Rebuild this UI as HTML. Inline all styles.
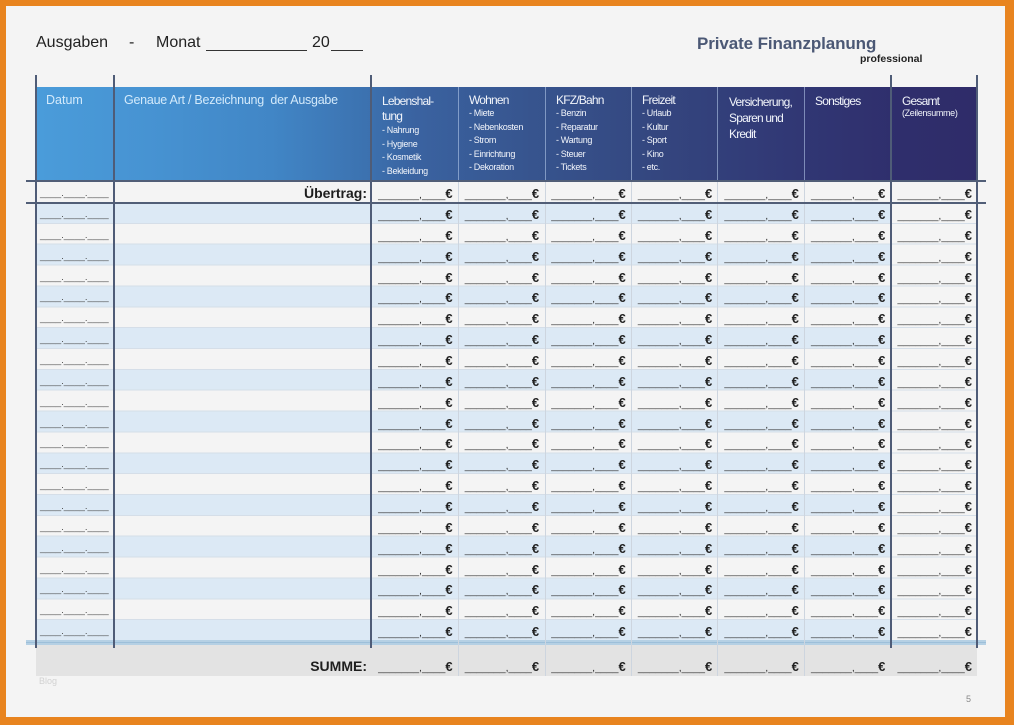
<!DOCTYPE html>
<html><head><meta charset="utf-8">
<style>
*{margin:0;padding:0}
body{width:1014px;height:725px;overflow:hidden;background:#e8841f;position:relative;font-family:"Liberation Sans",sans-serif}
.a{position:absolute}
#pg{left:6px;top:6px;width:999px;height:711px;background:#f4f4f4}
.vl{position:absolute;top:75px;height:573px;width:2px;background:#4f5c77}
.hl{position:absolute;left:26px;width:960px;height:2px;background:#515e77}
.ls{position:absolute;top:181px;height:495px;width:1px;background:#cdd5df}
.hs{position:absolute;top:87px;height:93px;width:1px;background:rgba(190,210,240,0.55)}
.r{position:absolute;left:36px;width:941px;height:21px;display:flex;line-height:23px}
.r s{text-decoration:none;width:78px;padding-left:4px;box-sizing:border-box;font-size:9.5px;color:#4a4a4a;white-space:nowrap;overflow:hidden}
.r em{width:257px;flex:none;font-style:normal;text-align:right;padding-right:4px;box-sizing:border-box;font-weight:bold;font-size:14px;color:#1e1e1e}
.r i{font-style:normal;width:86.57px;flex:none;text-align:right;padding-right:5px;box-sizing:border-box;font-size:10.5px;color:#333;white-space:nowrap}
.r i b{font-size:13px;color:#222}
.ht{position:absolute;top:94px;color:#f2f5fb;font-size:12px;letter-spacing:-0.8px;line-height:15px}
.ht small{display:block;font-size:9px;letter-spacing:-0.35px;line-height:13.5px}
</style></head><body>
<div id="pg" class="a"></div>

<!-- title -->
<div class="a" style="left:36px;top:35px;font-size:16px;line-height:16px;color:#222">Ausgaben</div>
<div class="a" style="left:129px;top:35px;font-size:16px;line-height:16px;color:#222">-</div>
<div class="a" style="left:156px;top:35px;font-size:16px;line-height:16px;color:#222">Monat</div>
<div class="a" style="left:206px;top:50px;width:101px;height:1px;background:#333"></div>
<div class="a" style="left:312px;top:35px;font-size:16px;line-height:16px;color:#222">20</div>
<div class="a" style="left:331px;top:50px;width:32px;height:1px;background:#333"></div>
<div class="a" style="left:697px;top:35px;font-size:17px;line-height:17px;font-weight:bold;color:#4b5875;letter-spacing:-0.1px">Private Finanzplanung</div>
<div class="a" style="left:860px;top:54px;font-size:10.5px;line-height:11px;font-weight:bold;color:#222">professional</div>

<!-- stripes and row lines -->
<div class="a" style="left:36px;top:203px;width:855px;height:438px;background:repeating-linear-gradient(to bottom,#dce9f5 0,#dce9f5 20.857px,transparent 20.857px,transparent 41.714px)"></div>
<div class="a" style="left:36px;top:203px;width:941px;height:438px;background:repeating-linear-gradient(to bottom,transparent 0,transparent 19.857px,#d5dee8 19.857px,#d5dee8 20.857px)"></div>

<!-- summe band -->
<div class="a" style="left:36px;top:645px;width:941px;height:31px;background:#e3e3e3"></div>
<div class="a" style="left:26px;top:640px;width:960px;height:5px;background:#b5d0e4"></div>
<div class="a" style="left:26px;top:642px;width:960px;height:1px;background:#9dbfd9"></div>

<!-- header -->
<div class="a" style="left:36px;top:87px;width:941px;height:93px;background:linear-gradient(90deg,#4a9cda 0%,#4793d2 12%,#4186c6 25%,#3c72b0 35%,#3a63a1 40%,#37558f 52%,#34467f 66%,#313875 80%,#2f2e6c 92%,#2f2c69 100%)"></div>
<div class="hs" style="left:458px"></div>
<div class="hs" style="left:545px"></div>
<div class="hs" style="left:631px"></div>
<div class="hs" style="left:717px"></div>
<div class="hs" style="left:804px"></div>

<div class="a" style="left:46px;top:93px;font-size:12.5px;line-height:15px;color:#d3eafb">Datum</div>
<div class="a" style="left:124px;top:93px;font-size:12.5px;line-height:15px;color:#d3eafb;letter-spacing:-0.25px">Genaue Art / Bezeichnung&nbsp; der Ausgabe</div>
<div class="ht" style="left:382px">Lebenshal-<br>tung<small>- Nahrung<br>- Hygiene<br>- Kosmetik<br>- Bekleidung</small></div>
<div class="ht" style="left:469px;line-height:13px">Wohnen<small>- Miete<br>- Nebenkosten<br>- Strom<br>- Einrichtung<br>- Dekoration</small></div>
<div class="ht" style="left:556px;line-height:13px">KFZ/Bahn<small>- Benzin<br>- Reparatur<br>- Wartung<br>- Steuer<br>- Tickets</small></div>
<div class="ht" style="left:642px;line-height:13px">Freizeit<small>- Urlaub<br>- Kultur<br>- Sport<br>- Kino<br>- etc.</small></div>
<div class="ht" style="left:729px;line-height:16px">Versicherung,<br>Sparen und<br>Kredit</div>
<div class="ht" style="left:815px">Sonstiges</div>
<div class="ht" style="left:902px;line-height:14px">Gesamt<small style="line-height:11px">(Zeilensumme)</small></div>

<!-- body separators -->
<div class="ls" style="left:458px"></div>
<div class="ls" style="left:545px"></div>
<div class="ls" style="left:631px"></div>
<div class="ls" style="left:717px"></div>
<div class="ls" style="left:804px"></div>

<!-- dark lines -->
<div class="vl" style="left:35px"></div>
<div class="vl" style="left:113px"></div>
<div class="vl" style="left:370px"></div>
<div class="vl" style="left:890px"></div>
<div class="vl" style="left:976px"></div>
<div class="hl" style="top:180px"></div>
<div class="hl" style="top:202px"></div>

<!-- rows -->
<div class="r" style="top:182px"><s>____.____.____</s><em>Übertrag:</em><i>_______,____<b>€</b></i><i>_______,____<b>€</b></i><i>_______,____<b>€</b></i><i>_______,____<b>€</b></i><i>_______,____<b>€</b></i><i>_______,____<b>€</b></i><i>_______,____<b>€</b></i></div>
<div class="r" style="top:203px"><s>____.____.____</s><em></em><i>_______,____<b>€</b></i><i>_______,____<b>€</b></i><i>_______,____<b>€</b></i><i>_______,____<b>€</b></i><i>_______,____<b>€</b></i><i>_______,____<b>€</b></i><i>_______,____<b>€</b></i></div>
<div class="r" style="top:223.86px"><s>____.____.____</s><em></em><i>_______,____<b>€</b></i><i>_______,____<b>€</b></i><i>_______,____<b>€</b></i><i>_______,____<b>€</b></i><i>_______,____<b>€</b></i><i>_______,____<b>€</b></i><i>_______,____<b>€</b></i></div>
<div class="r" style="top:244.71px"><s>____.____.____</s><em></em><i>_______,____<b>€</b></i><i>_______,____<b>€</b></i><i>_______,____<b>€</b></i><i>_______,____<b>€</b></i><i>_______,____<b>€</b></i><i>_______,____<b>€</b></i><i>_______,____<b>€</b></i></div>
<div class="r" style="top:265.57px"><s>____.____.____</s><em></em><i>_______,____<b>€</b></i><i>_______,____<b>€</b></i><i>_______,____<b>€</b></i><i>_______,____<b>€</b></i><i>_______,____<b>€</b></i><i>_______,____<b>€</b></i><i>_______,____<b>€</b></i></div>
<div class="r" style="top:286.43px"><s>____.____.____</s><em></em><i>_______,____<b>€</b></i><i>_______,____<b>€</b></i><i>_______,____<b>€</b></i><i>_______,____<b>€</b></i><i>_______,____<b>€</b></i><i>_______,____<b>€</b></i><i>_______,____<b>€</b></i></div>
<div class="r" style="top:307.29px"><s>____.____.____</s><em></em><i>_______,____<b>€</b></i><i>_______,____<b>€</b></i><i>_______,____<b>€</b></i><i>_______,____<b>€</b></i><i>_______,____<b>€</b></i><i>_______,____<b>€</b></i><i>_______,____<b>€</b></i></div>
<div class="r" style="top:328.14px"><s>____.____.____</s><em></em><i>_______,____<b>€</b></i><i>_______,____<b>€</b></i><i>_______,____<b>€</b></i><i>_______,____<b>€</b></i><i>_______,____<b>€</b></i><i>_______,____<b>€</b></i><i>_______,____<b>€</b></i></div>
<div class="r" style="top:349px"><s>____.____.____</s><em></em><i>_______,____<b>€</b></i><i>_______,____<b>€</b></i><i>_______,____<b>€</b></i><i>_______,____<b>€</b></i><i>_______,____<b>€</b></i><i>_______,____<b>€</b></i><i>_______,____<b>€</b></i></div>
<div class="r" style="top:369.86px"><s>____.____.____</s><em></em><i>_______,____<b>€</b></i><i>_______,____<b>€</b></i><i>_______,____<b>€</b></i><i>_______,____<b>€</b></i><i>_______,____<b>€</b></i><i>_______,____<b>€</b></i><i>_______,____<b>€</b></i></div>
<div class="r" style="top:390.71px"><s>____.____.____</s><em></em><i>_______,____<b>€</b></i><i>_______,____<b>€</b></i><i>_______,____<b>€</b></i><i>_______,____<b>€</b></i><i>_______,____<b>€</b></i><i>_______,____<b>€</b></i><i>_______,____<b>€</b></i></div>
<div class="r" style="top:411.57px"><s>____.____.____</s><em></em><i>_______,____<b>€</b></i><i>_______,____<b>€</b></i><i>_______,____<b>€</b></i><i>_______,____<b>€</b></i><i>_______,____<b>€</b></i><i>_______,____<b>€</b></i><i>_______,____<b>€</b></i></div>
<div class="r" style="top:432.43px"><s>____.____.____</s><em></em><i>_______,____<b>€</b></i><i>_______,____<b>€</b></i><i>_______,____<b>€</b></i><i>_______,____<b>€</b></i><i>_______,____<b>€</b></i><i>_______,____<b>€</b></i><i>_______,____<b>€</b></i></div>
<div class="r" style="top:453.29px"><s>____.____.____</s><em></em><i>_______,____<b>€</b></i><i>_______,____<b>€</b></i><i>_______,____<b>€</b></i><i>_______,____<b>€</b></i><i>_______,____<b>€</b></i><i>_______,____<b>€</b></i><i>_______,____<b>€</b></i></div>
<div class="r" style="top:474.14px"><s>____.____.____</s><em></em><i>_______,____<b>€</b></i><i>_______,____<b>€</b></i><i>_______,____<b>€</b></i><i>_______,____<b>€</b></i><i>_______,____<b>€</b></i><i>_______,____<b>€</b></i><i>_______,____<b>€</b></i></div>
<div class="r" style="top:495px"><s>____.____.____</s><em></em><i>_______,____<b>€</b></i><i>_______,____<b>€</b></i><i>_______,____<b>€</b></i><i>_______,____<b>€</b></i><i>_______,____<b>€</b></i><i>_______,____<b>€</b></i><i>_______,____<b>€</b></i></div>
<div class="r" style="top:515.86px"><s>____.____.____</s><em></em><i>_______,____<b>€</b></i><i>_______,____<b>€</b></i><i>_______,____<b>€</b></i><i>_______,____<b>€</b></i><i>_______,____<b>€</b></i><i>_______,____<b>€</b></i><i>_______,____<b>€</b></i></div>
<div class="r" style="top:536.71px"><s>____.____.____</s><em></em><i>_______,____<b>€</b></i><i>_______,____<b>€</b></i><i>_______,____<b>€</b></i><i>_______,____<b>€</b></i><i>_______,____<b>€</b></i><i>_______,____<b>€</b></i><i>_______,____<b>€</b></i></div>
<div class="r" style="top:557.57px"><s>____.____.____</s><em></em><i>_______,____<b>€</b></i><i>_______,____<b>€</b></i><i>_______,____<b>€</b></i><i>_______,____<b>€</b></i><i>_______,____<b>€</b></i><i>_______,____<b>€</b></i><i>_______,____<b>€</b></i></div>
<div class="r" style="top:578.43px"><s>____.____.____</s><em></em><i>_______,____<b>€</b></i><i>_______,____<b>€</b></i><i>_______,____<b>€</b></i><i>_______,____<b>€</b></i><i>_______,____<b>€</b></i><i>_______,____<b>€</b></i><i>_______,____<b>€</b></i></div>
<div class="r" style="top:599.29px"><s>____.____.____</s><em></em><i>_______,____<b>€</b></i><i>_______,____<b>€</b></i><i>_______,____<b>€</b></i><i>_______,____<b>€</b></i><i>_______,____<b>€</b></i><i>_______,____<b>€</b></i><i>_______,____<b>€</b></i></div>
<div class="r" style="top:620.14px"><s>____.____.____</s><em></em><i>_______,____<b>€</b></i><i>_______,____<b>€</b></i><i>_______,____<b>€</b></i><i>_______,____<b>€</b></i><i>_______,____<b>€</b></i><i>_______,____<b>€</b></i><i>_______,____<b>€</b></i></div>
<div class="r" style="top:655px"><s></s><em>SUMME:</em><i>_______,____<b>€</b></i><i>_______,____<b>€</b></i><i>_______,____<b>€</b></i><i>_______,____<b>€</b></i><i>_______,____<b>€</b></i><i>_______,____<b>€</b></i><i>_______,____<b>€</b></i></div>

<div class="a" style="left:39px;top:676px;font-size:9px;line-height:10px;color:#d2d2d2">Blog</div>
<div class="a" style="left:966px;top:694px;font-size:9px;line-height:10px;color:#888">5</div>
</body></html>
